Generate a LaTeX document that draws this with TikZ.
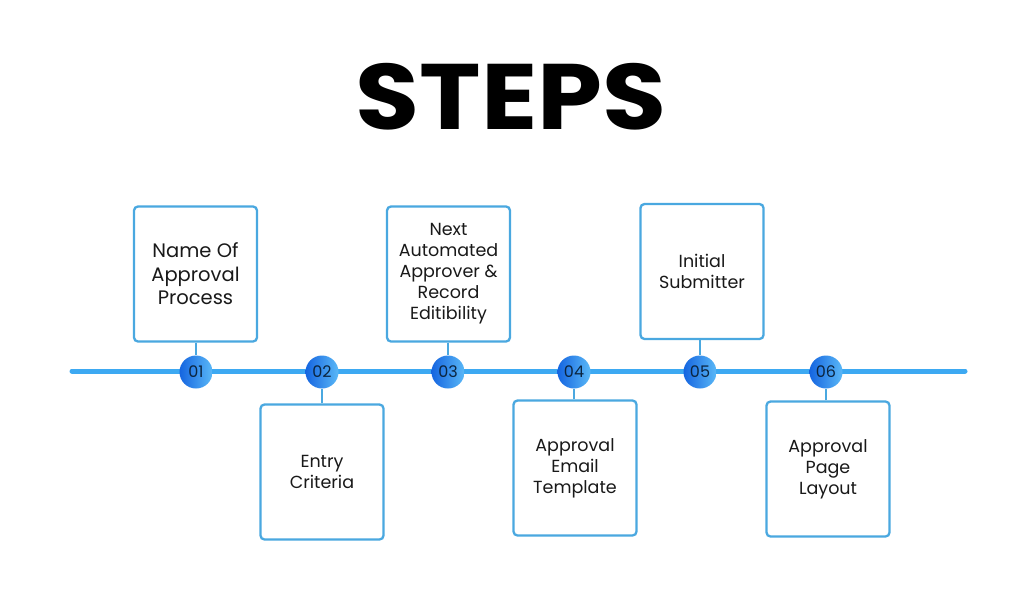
\documentclass[tikz,border=0pt]{standalone}
\usepackage{fontspec}
\setmainfont{Poppins}
\usetikzlibrary{positioning}
\definecolor{linec}{HTML}{3DA9F2}
\definecolor{boxc}{HTML}{4AA8E0}
\definecolor{cdark}{HTML}{1565E0}
\definecolor{clight}{HTML}{5AB8F7}
\definecolor{numc}{HTML}{0B2540}
\tikzset{
  stepbox/.style={draw=boxc, line width=2.3pt, rounded corners=4pt, fill=white,
    minimum width=123pt, minimum height=135pt, align=center, inner sep=0pt,
    font=\fontsize{17.5}{21}\selectfont, text=black!90},
  bigtext/.style={font=\fontsize{19.5}{23.5}\selectfont},
  numdot/.style={circle, minimum size=33pt, inner sep=0pt, left color=cdark, right color=clight,
    font=\fontsize{16}{16}\selectfont, text=numc},
  stem/.style={draw=boxc, line width=2pt},
}
\begin{document}
\begin{tikzpicture}[x=1pt,y=-1pt]
\useasboundingbox[fill=white] (0,0) rectangle (1024,600);
\node (title) at (511,97) {\scalebox{1.12}[1]{\fontsize{93}{93}\selectfont\bfseries STEPS}};
\coordinate (ls) at (72,371);
\coordinate (le) at (965,371);
\draw[linec, line width=5pt, line cap=round] (ls) -- (le);
% boxes
\node[stepbox, bigtext] (b1) at (195.5,274) {Name Of\\Approval\\Process};
\node[stepbox] (b2) at (322,472) {Entry\\Criteria};
\node[stepbox] (b3) at (448.5,274) {Next\\Automated\\Approver \&\\Record\\Editibility};
\node[stepbox] (b4) at (575,468) {Approval\\Email\\Template};
\node[stepbox] (b5) at (702,271.5) {Initial\\Submitter};
\node[stepbox] (b6) at (828,469) {Approval\\Page\\Layout};
% dots
\node[numdot] (n1) at (196,372) {01};
\node[numdot] (n2) at (322,372) {02};
\node[numdot] (n3) at (448,372) {03};
\node[numdot] (n4) at (574,372) {04};
\node[numdot] (n5) at (700,372) {05};
\node[numdot] (n6) at (826,372) {06};
\draw[stem] (b1.south -| n1) -- (n1.north);
\draw[stem] (b2.north -| n2) -- (n2.south);
\draw[stem] (b3.south -| n3) -- (n3.north);
\draw[stem] (b4.north -| n4) -- (n4.south);
\draw[stem] (b5.south -| n5) -- (n5.north);
\draw[stem] (b6.north -| n6) -- (n6.south);
\end{tikzpicture}
\end{document}
